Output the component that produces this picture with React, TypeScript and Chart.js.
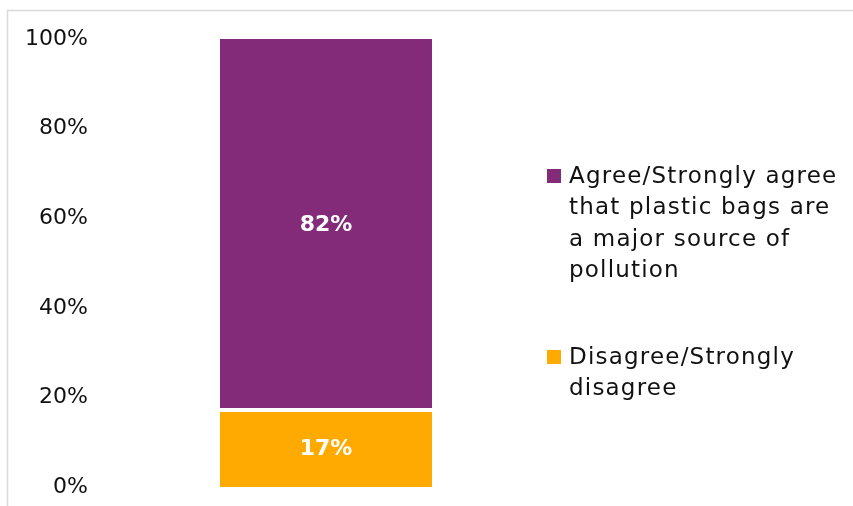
import React, { useEffect, useRef } from 'react';
import { Chart, registerables } from 'chart.js';

Chart.register(...registerables);

const categories = ['Plastic bags'];
const seriesNames = [
  'Agree/Strongly agree\nthat plastic bags are\na major source of\npollution',
  'Disagree/Strongly\ndisagree',
];
const agreeValues = [82];
const disagreeValues = [17];
const seriesColors = ['#832A78', '#FFAA00'];
const yTickMax = 100;
const yTickStep = 20;

const FONT = '"DejaVu Sans", sans-serif';

export default function App() {
  const ref = useRef<HTMLCanvasElement | null>(null);

  useEffect(() => {
    if (!ref.current) return;
    const totals = categories.map((_, i) => agreeValues[i] + disagreeValues[i]);
    const pct = (arr: number[]) => arr.map((v, i) => (v / totals[i]) * 100);
    const raw = [disagreeValues, agreeValues];

    const backgroundPlugin = {
      id: 'bgBorder',
      beforeDraw(chart: any) {
        const ctx = chart.ctx;
        ctx.save();
        ctx.fillStyle = '#ffffff';
        ctx.fillRect(0, 0, chart.width, chart.height);
        ctx.strokeStyle = '#d9d9d9';
        ctx.lineWidth = 1.5;
        ctx.strokeRect(7.5, 10.5, chart.width + 20, chart.height + 20);
        ctx.restore();
      },
    };

    const labelPlugin = {
      id: 'barLabels',
      afterDatasetsDraw(chart: any) {
        const ctx = chart.ctx;
        ctx.save();
        ctx.fillStyle = '#ffffff';
        ctx.font = `bold 22px ${FONT}`;
        ctx.textAlign = 'center';
        ctx.textBaseline = 'middle';
        chart.data.datasets.forEach((ds: any, di: number) => {
          const meta = chart.getDatasetMeta(di);
          meta.data.forEach((el: any, i: number) => {
            const { x, y, base } = el.getProps(['x', 'y', 'base'], true);
            ctx.fillText(`${raw[di][i]}%`, x, (y + base) / 2 + 1);
          });
        });
        ctx.restore();
      },
    };

    const legendPlugin = {
      id: 'sideLegend',
      afterDraw(chart: any) {
        const ctx = chart.ctx;
        ctx.save();
        ctx.font = `23px ${FONT}`;
        ctx.textBaseline = 'middle';
        ctx.textAlign = 'left';
        try { (ctx as any).letterSpacing = '1.2px'; } catch (e) {}
        const lineH = 31.5;
        const starts = [176, 357];
        const order = [0, 1];
        order.forEach((si, k) => {
          const lines = seriesNames[si].split('\n');
          const y0 = starts[k];
          ctx.fillStyle = seriesColors[si];
          ctx.fillRect(547, y0 - 7, 14, 14);
          ctx.fillStyle = '#111111';
          lines.forEach((ln, li) => ctx.fillText(ln, 569, y0 + li * lineH + 1));
        });
        try { (ctx as any).letterSpacing = '0px'; } catch (e) {}
        ctx.restore();
      },
    };

    const chart = new Chart(ref.current, {
      type: 'bar',
      data: {
        labels: categories,
        datasets: [
          {
            label: seriesNames[1].replace(/\n/g, ' '),
            data: pct(disagreeValues),
            backgroundColor: seriesColors[1],
            borderColor: '#ffffff',
            borderWidth: { top: 2, bottom: 0, left: 0, right: 0 },
            borderSkipped: false,
          },
          {
            label: seriesNames[0].replace(/\n/g, ' '),
            data: pct(agreeValues),
            backgroundColor: seriesColors[0],
            borderColor: '#ffffff',
            borderWidth: { top: 0, bottom: 2, left: 0, right: 0 },
            borderSkipped: false,
          },
        ],
      },
      options: {
        responsive: false,
        animation: false,
        maintainAspectRatio: false,
        layout: { padding: { left: 0, top: 39, bottom: 19, right: 301 } },
        datasets: { bar: { barPercentage: 0.469, categoryPercentage: 1 } },
        plugins: {
          legend: { display: false },
          tooltip: { enabled: false },
          title: { display: false },
        },
        scales: {
          x: { stacked: true, display: false },
          y: {
            stacked: true,
            min: 0,
            max: yTickMax,
            grid: { display: false },
            border: { display: false },
            ticks: {
              stepSize: yTickStep,
              padding: 4,
              color: '#111111',
              font: { family: FONT, size: 22 },
              callback: (v: any) => `${v}%`,
            },
            afterFit: (s: any) => {
              s.width = 100;
            },
          },
        },
      },
      plugins: [backgroundPlugin, labelPlugin, legendPlugin],
    } as any);
    return () => chart.destroy();
  }, []);

  return (
    <div style={{ position: 'fixed', left: 0, top: 0, width: 853, height: 506, background: '#fff' }}>
      <canvas ref={ref} width={853} height={506} style={{ display: 'block' }} />
    </div>
  );
}
